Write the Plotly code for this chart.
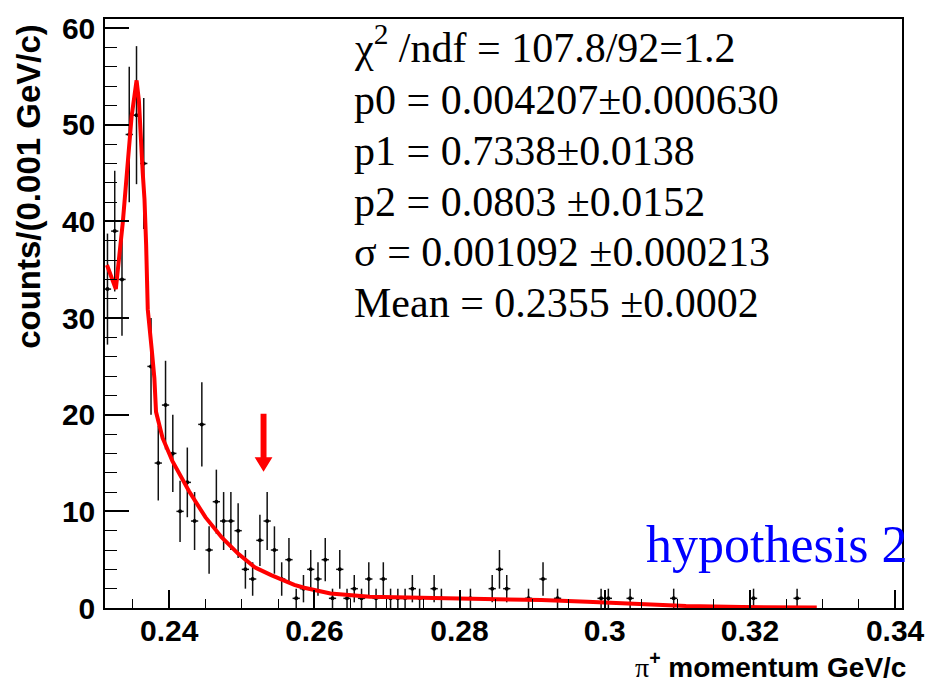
import numpy as np
import plotly.graph_objects as go

# Histogram: bin centres (GeV/c) and counts per 0.001 GeV/c bin (empty bins omitted)
bin_centers = [0.2315, 0.2325, 0.2335, 0.2345, 0.2355, 0.2365, 0.2375, 0.2385, 0.2395, 0.2405,
               0.2415, 0.2425, 0.2435, 0.2445, 0.2455, 0.2465, 0.2475, 0.2485, 0.2495, 0.2505,
               0.2515, 0.2525, 0.2535, 0.2545, 0.2555, 0.2565, 0.2575, 0.2585, 0.2595, 0.2605,
               0.2615, 0.2625, 0.2635, 0.2645, 0.2655, 0.2665, 0.2675, 0.2685, 0.2695, 0.2705,
               0.2715, 0.2725, 0.2735, 0.2745, 0.2765, 0.2775, 0.2815, 0.2845, 0.2855, 0.2865,
               0.2895, 0.2915, 0.2935, 0.2995, 0.3005, 0.3035, 0.3095, 0.3205, 0.3265]
counts = [33, 39, 34, 49, 51, 46, 25, 15, 21, 16,
          10, 13, 9, 19, 6, 11, 9, 9, 8, 4,
          3, 7, 9, 6, 3, 5, 1, 2, 4, 3,
          5, 1, 4, 1, 2, 1, 3, 1, 3, 1,
          1, 1, 2, 1, 2, 1, 1, 2, 4, 2,
          1, 3, 1, 1, 1, 1, 1, 1, 1]
bin_width = 0.001

# Fitted function (peak + falling background), sampled along the curve
fit_x = [0.23143, 0.23265, 0.23361, 0.23429, 0.23483, 0.23551, 0.23583, 0.23636, 0.23660,
         0.23683, 0.23705, 0.23759, 0.23796, 0.23819, 0.23909, 0.24045, 0.24272, 0.24499,
         0.24725, 0.24952, 0.25180, 0.25405, 0.25633, 0.25724, 0.25860, 0.26222, 0.26766,
         0.27310, 0.28218, 0.29125, 0.29759, 0.30259, 0.30667, 0.31120, 0.31891, 0.32921]
fit_y = [35.5, 33.0, 39.9, 45.7, 50.9, 54.6, 52.5, 45.0, 42.3,
         37.5, 30.9, 26.8, 23.8, 20.3, 17.6, 15.2, 12.1, 9.4,
         7.3, 5.6, 4.2, 3.4, 2.7, 2.4, 2.1, 1.5, 1.16,
         1.1, 1.0, 0.82, 0.65, 0.48, 0.41, 0.21, 0.1, 0.05]

x_tick_vals = [0.24, 0.26, 0.28, 0.30, 0.32, 0.34]
x_tick_text = ["0.24", "0.26", "0.28", "0.3", "0.32", "0.34"]
y_tick_vals = [0, 10, 20, 30, 40, 50, 60]
y_tick_text = ["0", "10", "20", "30", "40", "50", "60"]

stats_lines = [
    "χ<sup>2</sup> /ndf = 107.8/92=1.2",
    "p0 = 0.004207±0.000630",
    "p1 = 0.7338±0.0138",
    "p2 = 0.0803 ±0.0152",
    "σ = 0.001092 ±0.000213",
    "Mean = 0.2355 ±0.0002",
]

# Marker showing the expected position
arrow_x, arrow_top, arrow_base, arrow_tip = 0.253, 20.1, 15.6, 14.1

W, H = 937, 684
ML, MR, MT, MB = 105, 25, 15, 76
X_RANGE = [0.23116, 0.34095]
Y_RANGE = [0, 60.95]

poisson_err = np.sqrt(np.array(counts, dtype=float))

fig = go.Figure()

fig.add_trace(go.Scatter(
    x=bin_centers, y=counts, mode="markers",
    marker=dict(color="black", size=4, symbol="circle"),
    error_y=dict(type="data", array=poisson_err, visible=True, width=0,
                 thickness=1.5, color="#111111"),
    error_x=dict(type="constant", value=bin_width / 2, visible=True, width=0,
                 thickness=1.5, color="#111111"),
    showlegend=False, hoverinfo="x+y",
))

fig.add_trace(go.Scatter(
    x=fit_x, y=fit_y, mode="lines",
    line=dict(color="#ff0000", width=4),
    showlegend=False, hoverinfo="skip",
))

# Red arrow as a filled polygon
px_per_x = (W - ML - MR) / (X_RANGE[1] - X_RANGE[0])
hw = 3 / px_per_x
HW = 9 / px_per_x
arrow_path = (f"M {arrow_x - hw},{arrow_top} L {arrow_x + hw},{arrow_top} "
              f"L {arrow_x + hw},{arrow_base} L {arrow_x + HW},{arrow_base} "
              f"L {arrow_x},{arrow_tip} L {arrow_x - HW},{arrow_base} "
              f"L {arrow_x - hw},{arrow_base} Z")
fig.add_shape(type="path", path=arrow_path, xref="x", yref="y",
              fillcolor="#ff0000", line=dict(width=0))

plot_w = W - ML - MR
plot_h = H - MT - MB
annotations = []
for i, line in enumerate(stats_lines):
    py = 46 + 51 * i - (5 if i == 0 else 0)
    annotations.append(dict(
        text=line, xref="paper", yref="paper",
        x=(355 - ML) / plot_w, y=(H - MB - py) / plot_h,
        xanchor="left", yanchor="middle", showarrow=False,
        font=dict(family="Liberation Serif", size=42, color="black"),
    ))

annotations.append(dict(
    text="hypothesis 2", xref="paper", yref="paper",
    x=(919 - ML) / plot_w, y=(H - MB - 544) / plot_h,
    xanchor="right", yanchor="middle", showarrow=False,
    font=dict(family="Liberation Serif", size=52, color="#0000ff"),
))

annotations.append(dict(
    text='<span style="font-family:Liberation Serif;font-weight:normal">π</span><sup>+</sup> momentum GeV/c',
    xref="paper", yref="paper",
    x=(918 - ML) / plot_w, y=(H - MB - 665) / plot_h,
    xanchor="right", yanchor="middle", showarrow=False,
    font=dict(family="Liberation Sans", size=28, color="black", weight="bold"),
))

annotations.append(dict(
    text="counts/(0.001 GeV/c)", xref="paper", yref="paper",
    x=(28 - ML) / plot_w, y=(H - MB - 183) / plot_h,
    xanchor="center", yanchor="middle", showarrow=False, textangle=-90,
    font=dict(family="Liberation Sans", size=33, color="black", weight="bold"),
))

tick_font = dict(family="Liberation Sans", size=30, color="black", weight="bold")

fig.update_layout(
    width=W, height=H,
    margin=dict(l=ML, r=MR, t=MT, b=MB, pad=0),
    paper_bgcolor="white", plot_bgcolor="white",
    annotations=annotations,
    xaxis=dict(
        range=X_RANGE, tickmode="array", tickvals=x_tick_vals, ticktext=x_tick_text,
        ticks="inside", ticklen=18, tickwidth=1.5, tickcolor="black",
        showline=True, linecolor="black", linewidth=1.5, mirror=True,
        showgrid=False, zeroline=False, tickfont=tick_font, ticklabelstandoff=-5,
        minor=dict(tickmode="linear", tick0=0.24, dtick=0.005, ticks="inside",
                   ticklen=9, tickwidth=1.2, tickcolor="black", showgrid=False),
    ),
    yaxis=dict(
        range=Y_RANGE, tickmode="array", tickvals=y_tick_vals, ticktext=y_tick_text,
        ticks="inside", ticklen=24, tickwidth=1.5, tickcolor="black",
        showline=True, linecolor="black", linewidth=1.5, mirror=True,
        showgrid=False, zeroline=False, tickfont=tick_font, ticklabelstandoff=2,
        minor=dict(tickmode="linear", tick0=0, dtick=2, ticks="inside",
                   ticklen=12, tickwidth=1.2, tickcolor="black", showgrid=False),
    ),
)

fig.write_html("out.html")
